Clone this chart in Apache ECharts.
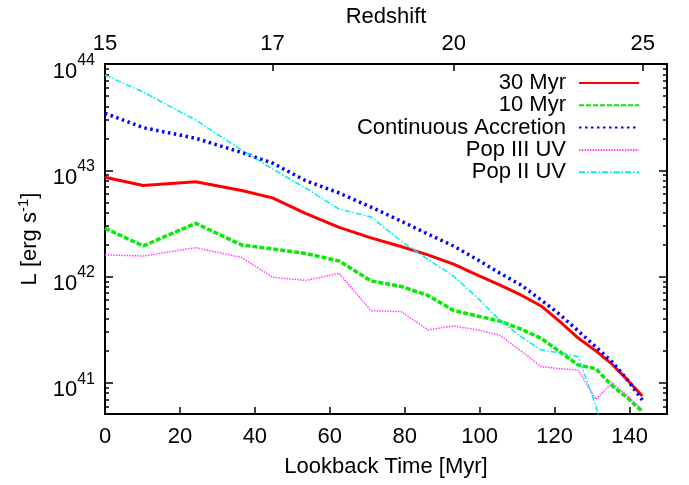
<!DOCTYPE html>
<html><head><meta charset="utf-8">
<script src="https://cdn.jsdelivr.net/npm/echarts@6/dist/echarts.min.js"></script>
<style>html,body{margin:0;padding:0;background:#fff}#c{width:689px;height:485px}</style>
</head><body><div id="c"></div>
<script>
// Lookback time [Myr] of the sampled points
const lookbackTime = [0, 10.2, 24.2, 36.5, 44.7, 53.5, 62.5, 71, 79, 86.2, 93, 99.3, 105.3, 111, 116.4, 121.5, 126.3, 131, 135.4, 139.5, 143.4];
// Luminosities [erg s^-1]
const myr30 = [8.6e42, 7.2e42, 7.8e42, 6.46e42, 5.5e42, 3.93e42, 2.9e42, 2.31e42, 1.92e42, 1.6e42, 1.31e42, 1.035e42, 8.34e41, 6.71e41, 5.29e41, 3.74e41, 2.64e41, 2.0e41, 1.49e41, 1.06e41, 7.5e40];
const myr10 = [2.85e42, 1.94e42, 3.17e42, 1.98e42, 1.82e42, 1.65e42, 1.40e42, 9.1e41, 8.07e41, 6.64e41, 4.8e41, 4.26e41, 3.82e41, 3.21e41, 2.62e41, 1.95e41, 1.47e41, 1.36e41, 9.35e40, 7.2e40, 5.38e40];
const contAccretion = [3.44e43, 2.52e43, 2.0e43, 1.47e43, 1.17e43, 8.0e42, 6.11e42, 4.5e42, 3.33e42, 2.51e42, 1.94e42, 1.45e42, 1.08e42, 8.34e41, 6.03e41, 4.36e41, 3.08e41, 2.18e41, 1.57e41, 1.06e41, 6.9e40];
const popIIIUV = [1.60e42, 1.56e42, 1.87e42, 1.51e42, 9.85e41, 9.2e41, 1.07e42, 4.78e41, 4.68e41, 3.15e41, 3.43e41, 3.15e41, 2.82e41, 2.0e41, 1.42e41, 1.36e41, 1.32e41, 7.0e40, 1.0e41, 7.5e40, 5.56e40];
const popIIUV = [7.88e43, 5.45e43, 2.97e43, 1.55e43, 1.03e43, 6.81e42, 4.32e42, 3.64e42, 2.16e42, 1.45e42, 1.01e42, 6.37e41, 3.9e41, 2.72e41, 2.04e41, 1.91e41, 1.76e41, 6.07e40, 1.5e40, null, null];

const seriesNames = ['30 Myr', '10 Myr', 'Continuous Accretion', 'Pop III UV', 'Pop II UV'];

// Axis ticks
const xTicks = [0, 20, 40, 60, 80, 100, 120, 140];
const redshiftLabels = ['15', '17', '20', '25'];
const redshiftTimes = [0, 44.7, 93.1, 143.5];
const yMajor = [1e41, 1e42, 1e43, 1e44];
const yMinorMultipliers = [2, 3, 4, 5, 6, 7, 8, 9];
const xMin = 0, xMax = 150, yMin = 5.09e40, yMax = 1e44;

const yMinor = [];
[1e40, 1e41, 1e42, 1e43].forEach(d => yMinorMultipliers.forEach(m => { const v = m * d; if (v > yMin && v < yMax) yMinor.push(v); }));

const FONT = '"Liberation Sans", Arial, Helvetica, sans-serif';
const pairs = arr => lookbackTime.map((t, i) => [t, arr[i]]);

const tickStyle = { color: '#000', width: 1.5 };
function yAxisDef(pos, major) {
  return {
    type: 'log', logBase: 10, position: pos, min: yMin, max: yMax,
    axisLine: { show: false },
    splitLine: { show: false },
    minorTick: { show: false },
    axisTick: { show: true, inside: true, length: major ? 8 : 4, lineStyle: tickStyle, customValues: major ? yMajor : yMinor },
    axisLabel: (pos === 'left' && major) ? {
      show: true, margin: 10, customValues: yMajor, padding: [7, 0, 0, 0],
      formatter: v => '{b|10}{s|' + Math.round(Math.log10(v)) + '}',
      rich: {
        b: { fontSize: 22, fontFamily: FONT, color: '#000', verticalAlign: 'bottom' },
        s: { fontSize: 16, fontFamily: FONT, color: '#000', verticalAlign: 'bottom', padding: [0, 0, 14, 0] }
      }
    } : { show: false }
  };
}

const yAxes = [yAxisDef('left', true), yAxisDef('left', false), yAxisDef('right', true), yAxisDef('right', false)];
yAxes[0].name = '{n|L [erg s}{s|-1}{n|]}';
yAxes[0].nameLocation = 'middle';
yAxes[0].nameGap = 64;
yAxes[0].nameTextStyle = {
  rich: {
    n: { fontSize: 22, fontFamily: FONT, color: '#000', verticalAlign: 'bottom' },
    s: { fontSize: 15, fontFamily: FONT, color: '#000', verticalAlign: 'bottom', padding: [0, 0, 10, 0] }
  }
};

const option = {
  backgroundColor: '#fff',
  animation: false,
  grid: { left: 105, right: 22, top: 64, bottom: 71, show: true, borderColor: '#000', borderWidth: 2, backgroundColor: 'transparent', outerBoundsMode: 'none' },
  legend: {
    data: seriesNames, orient: 'vertical', right: 49, top: 72, align: 'right',
    itemWidth: 60, itemHeight: 10, itemGap: 0.3, padding: 0,
    itemStyle: { opacity: 0 },
    textStyle: { fontSize: 22, fontFamily: FONT, color: '#000', lineHeight: 22, padding: [0, 8, 0, 0] }
  },
  xAxis: [
    {
      type: 'value', position: 'bottom', min: xMin, max: xMax,
      axisLine: { show: false }, splitLine: { show: false },
      axisTick: { show: true, inside: true, length: 7, lineStyle: tickStyle, customValues: xTicks },
      axisLabel: { customValues: xTicks, fontSize: 22, fontFamily: FONT, color: '#000', margin: 12 },
      name: 'Lookback Time [Myr]', nameLocation: 'middle', nameGap: 42,
      nameTextStyle: { fontSize: 22, fontFamily: FONT, color: '#000' }
    },
    {
      type: 'value', position: 'top', min: xMin, max: xMax,
      axisLine: { show: false }, splitLine: { show: false },
      axisTick: { show: true, inside: true, length: 7, lineStyle: tickStyle, customValues: redshiftTimes },
      axisLabel: {
        customValues: redshiftTimes, fontSize: 22, fontFamily: FONT, color: '#000', margin: 9,
        formatter: v => {
          let best = 0;
          redshiftTimes.forEach((t, i) => { if (Math.abs(t - v) < Math.abs(redshiftTimes[best] - v)) best = i; });
          return redshiftLabels[best];
        }
      },
      name: 'Redshift', nameLocation: 'middle', nameGap: 32,
      nameTextStyle: { fontSize: 22, fontFamily: FONT, color: '#000' }
    }
  ],
  yAxis: yAxes,
  series: [
    { name: seriesNames[0], type: 'line', data: pairs(myr30), symbol: 'none', lineStyle: { color: '#ff0000', width: 3, type: 'solid' }, itemStyle: { color: '#ff0000' }, z: 2 },
    { name: seriesNames[1], type: 'line', data: pairs(myr10), symbol: 'none', lineStyle: { color: '#00ee00', width: 3.5, type: [5, 2] }, itemStyle: { color: '#00ee00' }, z: 3 },
    { name: seriesNames[2], type: 'line', data: pairs(contAccretion), symbol: 'none', lineStyle: { color: '#0000ff', width: 3.5, type: [2.5, 3.5] }, itemStyle: { color: '#0000ff' }, z: 4 },
    { name: seriesNames[3], type: 'line', data: pairs(popIIIUV), symbol: 'none', lineStyle: { color: '#ff44ff', width: 1.5, type: [1.5, 1.2] }, itemStyle: { color: '#ff44ff' }, z: 5 },
    { name: seriesNames[4], type: 'line', data: pairs(popIIUV), symbol: 'none', connectNulls: false, lineStyle: { color: '#00eeee', width: 1.5, type: [6, 2, 1.5, 2] }, itemStyle: { color: '#00eeee' }, z: 6 }
  ]
};

const chart = echarts.init(document.getElementById('c'), null, { renderer: 'canvas' });
chart.setOption(option);
</script>
</body></html>
